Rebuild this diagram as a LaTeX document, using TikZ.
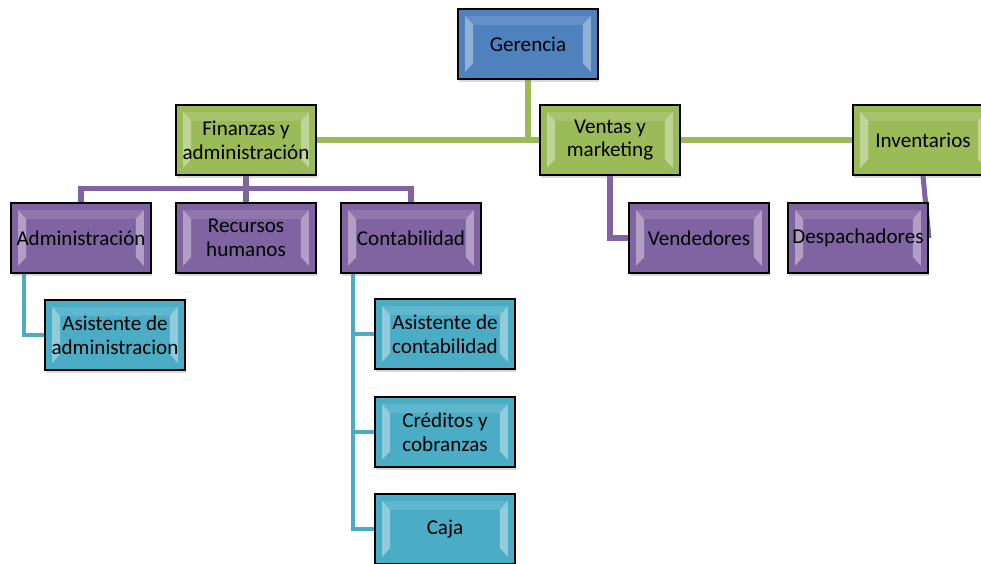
\documentclass[tikz,border=0pt]{standalone}
\usepackage{fontspec}
\setmainfont{Carlito}
\usetikzlibrary{positioning, calc, shadows, backgrounds}

\definecolor{gerblue}{HTML}{4F81BD}
\definecolor{areagreen}{HTML}{9BBB59}
\definecolor{deptpurple}{HTML}{8064A2}
\definecolor{subcyan}{HTML}{4BACC6}

\begin{document}
\begin{tikzpicture}[x=0.025cm, y=-0.025cm]

% ---- Styles -----------------------------------------------------------------
\tikzset{
  box/.style={draw=black, line width=1.3pt, minimum width=3.5cm,
    minimum height=1.75cm, align=center, inner sep=1pt,
    font=\fontsize{15}{17}\selectfont,
    drop shadow={opacity=0.3, shadow xshift=0.6pt, shadow yshift=-2pt},
    path picture={
      % bevel highlights, left and right
      \fill[white, opacity=0.38]
        ($(path picture bounding box.north west)+(0.18cm,-0.18cm)$) -- ++(0.2cm,-0.22cm)
        -- ($(path picture bounding box.south west)+(0.38cm,0.4cm)$) -- ++(-0.2cm,-0.22cm) -- cycle;
      \fill[white, opacity=0.38]
        ($(path picture bounding box.north east)+(-0.18cm,-0.18cm)$) -- ++(-0.2cm,-0.22cm)
        -- ($(path picture bounding box.south east)+(-0.38cm,0.4cm)$) -- ++(0.2cm,-0.22cm) -- cycle;
      \fill[white, opacity=0.12]
        ($(path picture bounding box.north west)+(0.18cm,-0.18cm)$) -- ++(0.2cm,-0.22cm)
        -- ($(path picture bounding box.north east)+(-0.38cm,-0.4cm)$) -- ++(0.2cm,0.22cm) -- cycle;
    }},
  topbox/.style={box, fill=gerblue},
  areabox/.style={box, fill=areagreen},
  deptbox/.style={box, fill=deptpurple},
  subbox/.style={box, fill=subcyan},
  greenline/.style={draw=areagreen, line width=3.6pt},
  purpleline/.style={draw=deptpurple, line width=3.6pt},
  cyanline/.style={draw=subcyan, line width=3pt},
}

\useasboundingbox (0,0) rectangle (981,564);

% ---- Nodes ------------------------------------------------------------------
\node[topbox]  (ger)  at (528,44)  {Gerencia};
\node[areabox] (fin)  at (246,140) {Finanzas y\\ administración};
\node[areabox] (ven)  at (610,140) {Ventas y\\ marketing};
\node[areabox] (inv)  at (923,140) {Inventarios};

\node[deptbox] (adm)  at (81,238)  {Administración};
\node[deptbox] (rec)  at (246,238) {Recursos\\ humanos};
\node[deptbox] (con)  at (411,238) {Contabilidad};
\node[deptbox] (vend) at (699,238) {Vendedores};
\node[deptbox] (desp) at (858,238) {Despachadores};

\node[subbox]  (asa)  at (115,335) {Asistente de\\ administracion};
\node[subbox]  (asc)  at (445,334) {Asistente de\\ contabilidad};
\node[subbox]  (cre)  at (445,432) {Créditos y\\ cobranzas};
\node[subbox]  (caja) at (445,529) {Caja};

% ---- Connectors -------------------------------------------------------------
\begin{scope}[on background layer]
  \draw[greenline] (ger.south) |- (fin.east);
  \draw[greenline] (fin.east) -- (ven.west);
  \draw[greenline] (ven.east) -- (inv.west);

  \coordinate (finbus) at ($(fin.south)+(0,13)$);
  \draw[purpleline] (fin.south) -- (finbus);
  \draw[purpleline] (adm.north) |- (finbus) -| (con.north);
  \draw[purpleline] (rec.north) -- (finbus);
  \draw[purpleline] (ven.south) |- (vend.west);
  \draw[purpleline] (inv.south) -- (desp.east);

  \draw[cyanline] ($(adm.south west)+(14,0)$) |- (asa.west);
  \draw[cyanline] ($(con.south west)+(13,0)$) |- (asc.west);
  \draw[cyanline] ($(con.south west)+(13,0)$) |- (cre.west);
  \draw[cyanline] ($(con.south west)+(13,0)$) |- (caja.west);
\end{scope}

\end{tikzpicture}
\end{document}
